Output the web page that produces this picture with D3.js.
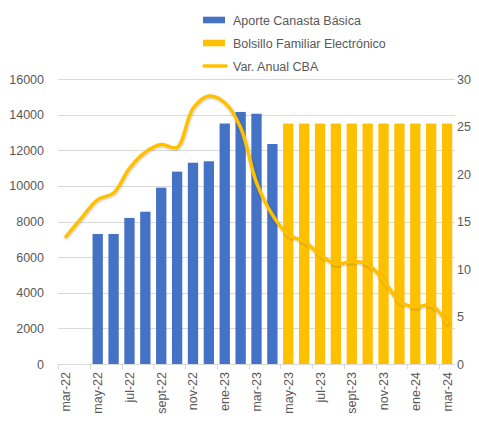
<!DOCTYPE html>
<html lang="es">
<head>
	<meta charset="UTF-8"/>
	<title>Aporte Canasta Básica y Bolsillo Familiar</title>
	<script src="https://d3js.org/d3.v7.min.js"></script>
	<style>
		body { margin: 0; background: #ffffff; }
		text { font-family: "Liberation Sans", Arial, sans-serif; fill: #595959; }
	</style>
</head>
<body>
<script>
	// meses de mar-22 a mar-24
	var months = ["mar-22","abr-22","may-22","jun-22","jul-22","ago-22","sept-22","oct-22","nov-22","dic-22",
				  "ene-23","feb-23","mar-23","abr-23","may-23","jun-23","jul-23","ago-23","sept-23","oct-23",
				  "nov-23","dic-23","ene-24","feb-24","mar-24"];

	var aporte = [null, null, 7300, 7300, 8200, 8550, 9900, 10800, 11300, 11380,
				  13500, 14150, 14050, 12350, null, null, null, null, null, null,
				  null, null, null, null, null];

	var bolsillo = [null, null, null, null, null, null, null, null, null, null,
					null, null, null, null, 13500, 13500, 13500, 13500, 13500, 13500,
					13500, 13500, 13500, 13500, 13500];

	var varAnual = [13.4, 15.4, 17.3, 18.0, 20.6, 22.3, 23.1, 22.8, 26.9, 28.2,
					27.5, 24.9, 19.1, 15.7, 13.6, 12.9, 11.5, 10.5, 10.8, 10.5,
					8.8, 6.6, 6.0, 6.2, 4.3];

	var leftTicks = [0, 2000, 4000, 6000, 8000, 10000, 12000, 14000, 16000];
	var rightTicks = [0, 5, 10, 15, 20, 25, 30];

	var w = 479;
	var h = 423;
	var plotL = 58, plotR = 455, plotT = 79, plotB = 364;

	var svg = d3.select("body")
				.append("svg")
				.attr("width", w)
				.attr("height", h);

	var xScale = d3.scaleBand()
					.domain(months)
					.range([plotL, plotR])
					.paddingInner(0.35)
					.paddingOuter(0.175);

	var yLeft = d3.scaleLinear()
					.domain([0, 16000])
					.range([plotB, plotT]);

	var yRight = d3.scaleLinear()
					.domain([0, 30])
					.range([plotB, plotT]);

	// grid
	svg.append("g")
		.selectAll("line")
		.data(leftTicks.slice(1))
		.enter()
		.append("line")
		.attr("x1", plotL)
		.attr("x2", plotR)
		.attr("y1", function(d){ return Math.round(yLeft(d)) + 0.5; })
		.attr("y2", function(d){ return Math.round(yLeft(d)) + 0.5; })
		.attr("stroke", "#d9d9d9")
		.attr("stroke-width", 1);

	// left axis
	var axisL = svg.append("g")
		.attr("transform", "translate(" + (plotL - 8) + ",0)")
		.call(d3.axisLeft(yLeft).tickValues(leftTicks).tickSize(0).tickPadding(6).tickFormat(d3.format("d")));
	axisL.select(".domain").remove();
	axisL.selectAll("text").attr("font-size", 12.5).style("fill", "#595959");

	// right axis
	var axisR = svg.append("g")
		.attr("transform", "translate(" + (plotR - 4) + ",0)")
		.call(d3.axisRight(yRight).tickValues(rightTicks).tickSize(0).tickPadding(6));
	axisR.select(".domain").remove();
	axisR.selectAll("text").attr("font-size", 12.5).style("fill", "#595959");

	// bars
	svg.append("g")
		.selectAll("rect")
		.data(months.filter(function(m, i){ return aporte[i] != null; }))
		.enter()
		.append("rect")
		.attr("x", function(d){ return xScale(d); })
		.attr("y", function(d){ return yLeft(aporte[months.indexOf(d)]); })
		.attr("width", xScale.bandwidth())
		.attr("height", function(d){ return plotB - yLeft(aporte[months.indexOf(d)]); })
		.attr("fill", "#4472c4");

	svg.append("g")
		.selectAll("rect")
		.data(months.filter(function(m, i){ return bolsillo[i] != null; }))
		.enter()
		.append("rect")
		.attr("x", function(d){ return xScale(d); })
		.attr("y", function(d){ return yLeft(bolsillo[months.indexOf(d)]); })
		.attr("width", xScale.bandwidth())
		.attr("height", function(d){ return plotB - yLeft(bolsillo[months.indexOf(d)]); })
		.attr("fill", "#ffc000");

	// x axis line + ticks every 2 months
	var step = xScale.step();
	svg.append("line")
		.attr("x1", plotL).attr("x2", plotR)
		.attr("y1", plotB + 0.5).attr("y2", plotB + 0.5)
		.attr("stroke", "#d9d9d9");
	svg.append("g")
		.selectAll("line")
		.data(months.filter(function(m, i){ return i % 2 == 0; }))
		.enter()
		.append("line")
		.attr("x1", function(d){ return Math.round(xScale(d) - step * 0.175) + 0.5; })
		.attr("x2", function(d){ return Math.round(xScale(d) - step * 0.175) + 0.5; })
		.attr("y1", plotB)
		.attr("y2", plotB + 5)
		.attr("stroke", "#d9d9d9");

	svg.append("g")
		.selectAll("text")
		.data(months.filter(function(m, i){ return i % 2 == 0; }))
		.enter()
		.append("text")
		.attr("transform", function(d){
			return "translate(" + (xScale(d) + xScale.bandwidth() / 2 + 4.5) + "," + (plotB + 8) + ") rotate(-90)";
		})
		.attr("text-anchor", "end")
		.attr("font-size", 12.5)
		.text(function(d){ return d; });

	// line
	var defs = svg.append("defs");
	var f = defs.append("filter").attr("id", "sh").attr("x", "-10%").attr("y", "-10%").attr("width", "120%").attr("height", "130%");
	f.append("feDropShadow").attr("dx", 0.5).attr("dy", 1).attr("stdDeviation", 1)
		.attr("flood-color", "#000").attr("flood-opacity", 0.25);

	var line = d3.line()
				.x(function(d, i){ return xScale(months[i]) + xScale.bandwidth() / 2; })
				.y(function(d){ return yRight(d); })
				.curve(d3.curveCatmullRom.alpha(0.5));

	svg.append("path")
		.datum(varAnual)
		.attr("d", line)
		.attr("fill", "none")
		.attr("stroke", "#ffc000")
		.attr("stroke-width", 3.5)
		.attr("stroke-linejoin", "round")
		.attr("stroke-linecap", "round")
		.attr("filter", "url(#sh)");

	// legend
	var legend = [
		{ name: "Aporte Canasta Básica", color: "#4472c4", type: "rect" },
		{ name: "Bolsillo Familiar Electrónico", color: "#ffc000", type: "rect" },
		{ name: "Var. Anual CBA", color: "#ffc000", type: "line" }
	];
	var lg = svg.append("g")
		.selectAll("g")
		.data(legend)
		.enter()
		.append("g")
		.attr("transform", function(d, i){ return "translate(203," + (20 + i * 23) + ")"; });
	lg.filter(function(d){ return d.type == "rect"; })
		.append("rect")
		.attr("x", 0).attr("y", -3.3)
		.attr("width", 22).attr("height", 6.6)
		.attr("fill", function(d){ return d.color; });
	lg.filter(function(d){ return d.type == "line"; })
		.append("line")
		.attr("x1", 1).attr("x2", 23)
		.attr("stroke", function(d){ return d.color; })
		.attr("stroke-width", 3.5)
		.attr("stroke-linecap", "round");
	lg.append("text")
		.attr("x", 30)
		.attr("y", 4.5)
		.attr("font-size", 12.5)
		.text(function(d){ return d.name; });
</script>
</body>
</html>
